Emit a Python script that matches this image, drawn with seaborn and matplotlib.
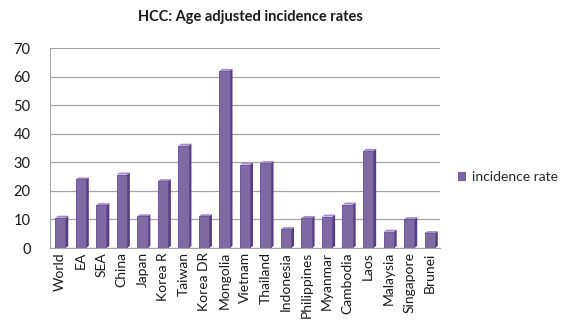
import matplotlib
matplotlib.use("Agg")
import matplotlib.pyplot as plt
import seaborn as sns
import pandas as pd
import numpy as np
from matplotlib.patches import Polygon

countries = ["World", "EA", "SEA", "China", "Japan", "Korea R", "Taiwan", "Korea DR",
             "Mongolia", "Vietnam", "Thailand", "Indonesia", "Philippines", "Myanmar",
             "Cambodia", "Laos", "Malaysia", "Singapore", "Brunei"]
rates = [10.6, 24.0, 15.0, 25.7, 11.1, 23.4, 35.8, 11.1, 62.0, 29.2, 29.7, 6.6,
         10.5, 11.0, 15.2, 34.0, 5.7, 10.1, 5.2]
series_name = "incidence rate"
title = "HCC: Age adjusted incidence rates"
yticks = [0, 10, 20, 30, 40, 50, 60, 70]

df = pd.DataFrame({"country": countries, "rate": rates, "series": series_name})

sns.set_style("white")
plt.rcParams["font.family"] = ["Lato", "DejaVu Sans"]

fig = plt.figure(figsize=(5.67, 3.21), dpi=100)
ax = fig.add_axes([50 / 567, 73 / 321, 390 / 567, 200 / 321])

face = "#7D61AD"
side = "#563D86"
top = "#A28BC8"
sns.barplot(data=df, x="country", y="rate", hue="series", palette=[face],
            width=0.5, ax=ax, edgecolor="#64489A", linewidth=0.6, legend=False,
            zorder=3)

# pseudo-3D side faces and tops derived from the drawn bars
for p in list(ax.patches):
    x0, y0 = p.get_x(), p.get_y()
    w, h = p.get_width(), p.get_height()
    dx, dy = 0.14, 0.7
    ax.add_patch(Polygon([(x0 + w, y0), (x0 + w + dx, y0 + dy),
                          (x0 + w + dx, y0 + h + dy), (x0 + w, y0 + h)],
                         closed=True, facecolor=side, edgecolor="none", zorder=2.9))
    ax.add_patch(Polygon([(x0, y0 + h), (x0 + dx, y0 + h + dy),
                          (x0 + w + dx, y0 + h + dy), (x0 + w, y0 + h)],
                         closed=True, facecolor=top, edgecolor="none", zorder=2.9))

n = len(countries)
ax.set_ylim(0, 70)
ax.set_yticks(yticks)
ax.set_xlim(-0.5, n - 0.5)
ax.set_xticks(np.arange(-0.5, n, 1.0), minor=True)
ax.yaxis.grid(True, color="#A6A6A6", linewidth=0.9, zorder=0)
ax.set_axisbelow(True)
ax.set_xlabel("")
ax.set_ylabel("")
for s in ["top", "right"]:
    ax.spines[s].set_visible(False)
ax.spines["left"].set_color("#A6A6A6")
ax.spines["bottom"].set_color("#A6A6A6")
ax.tick_params(axis="y", labelsize=10.5, length=0, pad=14)
ax.tick_params(axis="x", which="major", labelsize=10, rotation=90, length=0, pad=3)
ax.tick_params(axis="x", which="minor", length=4, color="#A6A6A6", direction="out")
for lab in ax.get_yticklabels() + ax.get_xticklabels():
    lab.set_color("#1A1A1A")

fig.text(250 / 567, 1 - 17 / 321, title, ha="center", va="center",
         fontsize=10.5, fontweight="bold", color="#1A1A1A")

handle = plt.Rectangle((0, 0), 1, 1, facecolor=face, edgecolor="none")
fig.legend([handle], [series_name], loc="center left",
           bbox_to_anchor=(458 / 567, 1 - 177 / 321), frameon=False,
           fontsize=10, handlelength=0.6, handleheight=0.6, handletextpad=0.4,
           borderaxespad=0, borderpad=0)

fig.savefig("out.png", dpi=100)
